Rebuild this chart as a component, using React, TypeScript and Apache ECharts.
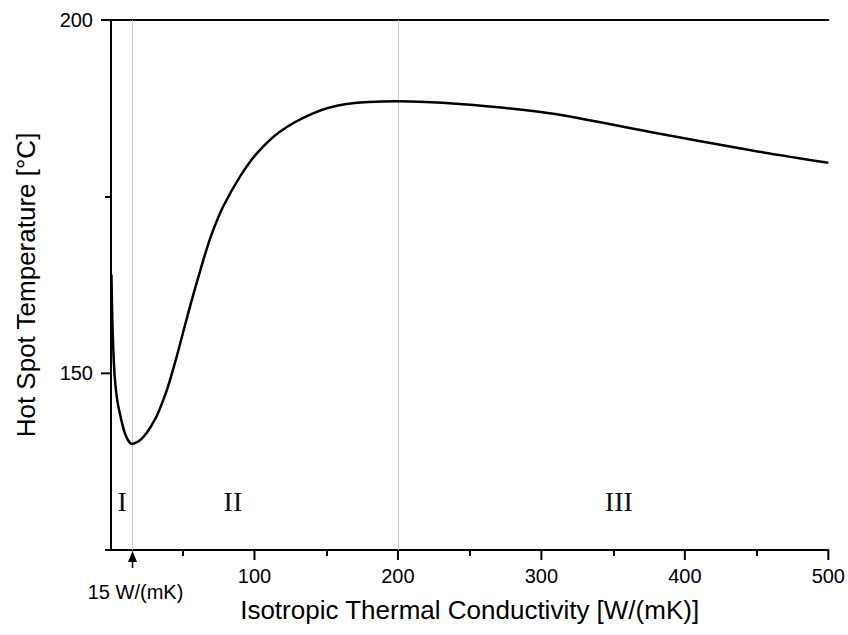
import React, { useEffect, useRef } from "react";
import * as echarts from "echarts";

// Curve: isotropic thermal conductivity [W/(mK)] vs hot spot temperature [°C]
const conductivity = [0.3, 1, 2, 3, 4.5, 6.3, 8, 9.7, 12, 14.4, 17, 20, 23, 26, 29, 32, 36, 40, 45, 50, 55, 60, 64.3, 70, 78.2, 89.8, 101.5, 117.7, 140.9, 164.1, 199, 243, 305.7, 375, 445, 500];
const hotSpot = [164, 157, 151.5, 148.5, 146, 144.2, 142.7, 141.5, 140.5, 140.0, 140.15, 140.5, 141.1, 141.9, 142.9, 144.0, 146.0, 148.3, 151.8, 155.6, 159.4, 163, 166, 169.6, 173.6, 177.8, 181.1, 184.2, 186.8, 188.1, 188.5, 188.1, 186.8, 184.2, 181.6, 179.8];

const xMajorTicks = [100, 200, 300, 400, 500];
const xMinorTicks = [50, 150, 250, 350, 450];
const yMajorTicks = [150, 200];
const yMinorTicks = [125, 175];

const guideLines = [15, 200];
const regionLabels = ["I", "II", "III"];
const regionX = [7.7, 85, 354];
const regionY = 131.8;
const arrowX = 15;
const arrowLabel = "15 W/(mK)";

const SANS = "'Liberation Sans', Arial, Helvetica, sans-serif";
const SERIF = "'Liberation Serif', 'Times New Roman', serif";

export default function App() {
  const ref = useRef<HTMLDivElement>(null);
  useEffect(() => {
    if (!ref.current) return;
    const chart = echarts.init(ref.current, undefined, { renderer: "svg" });
    const data = conductivity.map((x, i) => [x, hotSpot[i]]);
    const X_MIN = 0, X_MAX = 500, Y_MIN = 125, Y_MAX = 200;
    const gridRect = { left: 111, right: 19, top: 20, bottom: 85, containLabel: false };
    const tickStyle = { color: "#000", width: 2 };
    chart.setOption({
      animation: false,
      backgroundColor: "#ffffff",
      grid: [gridRect, gridRect],
      xAxis: [
        {
          gridIndex: 0,
          type: "value", min: X_MIN, max: X_MAX, interval: 100, position: "bottom",
          name: "Isotropic Thermal Conductivity [W/(mK)]", nameLocation: "middle", nameGap: 47,
          nameTextStyle: { fontFamily: SANS, fontSize: 26, color: "#000" },
          axisLine: { show: true, lineStyle: { color: "#000", width: 2 } },
          axisTick: { show: false },
          axisLabel: { show: true, margin: 16, customValues: xMajorTicks.slice(), fontFamily: SANS, fontSize: 20, color: "#000" },
          splitLine: { show: false },
        },
        {
          gridIndex: 0,
          type: "value", min: X_MIN, max: X_MAX, position: "top",
          axisLine: { show: true, lineStyle: { color: "#000", width: 2 } },
          axisTick: { show: false }, axisLabel: { show: false }, splitLine: { show: false },
        },
        {
          gridIndex: 1,
          type: "value", min: X_MIN, max: X_MAX, position: "bottom",
          axisLine: { show: false },
          axisTick: { show: true, inside: false, length: 6, customValues: xMinorTicks.slice(), lineStyle: tickStyle },
          axisLabel: { show: false },
          splitLine: { show: false },
        },
      ],
      yAxis: [
        {
          gridIndex: 0,
          type: "value", min: Y_MIN, max: Y_MAX, interval: 25, position: "left",
          name: "Hot Spot Temperature [°C]", nameLocation: "middle", nameGap: 72,
          nameTextStyle: { fontFamily: SANS, fontSize: 26, color: "#000" },
          axisLine: { show: true, lineStyle: { color: "#000", width: 2 } },
          axisTick: { show: false },
          axisLabel: { show: true, margin: 18, customValues: yMajorTicks.slice(), fontFamily: SANS, fontSize: 20, color: "#000" },
          splitLine: { show: false },
        },
        {
          gridIndex: 0,
          type: "value", min: Y_MIN, max: Y_MAX, position: "right",
          axisLine: { show: true, lineStyle: { color: "#000", width: 2 } },
          axisTick: { show: false }, axisLabel: { show: false }, splitLine: { show: false },
        },
        {
          gridIndex: 1,
          type: "value", min: Y_MIN, max: Y_MAX, position: "left",
          axisLine: { show: false },
          axisTick: { show: true, inside: false, length: 6, customValues: yMinorTicks.slice(), lineStyle: tickStyle },
          axisLabel: { show: false },
          splitLine: { show: false },
        },
      ],
      series: [
        {
          type: "line",
          xAxisIndex: 0, yAxisIndex: 0,
          data,
          smooth: 0.3,
          showSymbol: false,
          symbol: "none",
          lineStyle: { color: "#000", width: 2.5 },
          z: 5,
          markLine: {
            silent: true,
            symbol: ["none", "none"],
            label: { show: false },
            lineStyle: { color: "#c8c8c8", width: 1, type: "solid" },
            data: guideLines.map((v) => ({ xAxis: v })),
            z: 1,
          },
        },
      ],
    });

    const px = (x: number, y: number) => chart.convertToPixel({ xAxisIndex: 0, yAxisIndex: 0 }, [x, y]) as number[];
    const graphic: any[] = [];
    // major ticks, positioned through the axis scale
    xMajorTicks.forEach((v) => {
      const p = px(v, Y_MIN);
      graphic.push({
        type: "line",
        shape: { x1: p[0], y1: p[1], x2: p[0], y2: p[1] + 10 },
        style: { stroke: "#000", lineWidth: 2 },
        z: 10,
      });
    });
    yMajorTicks.forEach((v) => {
      const p = px(X_MIN, v);
      graphic.push({
        type: "line",
        shape: { x1: p[0] - 10, y1: p[1], x2: p[0], y2: p[1] },
        style: { stroke: "#000", lineWidth: 2 },
        z: 10,
      });
    });
    const base = px(arrowX, Y_MIN);
    graphic.push(
      {
        type: "polygon",
        shape: { points: [[base[0], base[1] + 1], [base[0] - 4.5, base[1] + 12], [base[0] + 4.5, base[1] + 12]] },
        style: { fill: "#000" },
        z: 10,
      },
      {
        type: "line",
        shape: { x1: base[0], y1: base[1] + 8, x2: base[0], y2: base[1] + 18 },
        style: { stroke: "#000", lineWidth: 1.5 },
        z: 10,
      },
      {
        type: "text",
        x: base[0] + 3,
        y: base[1] + 42,
        style: { text: arrowLabel, fontFamily: SANS, fontSize: 20, fill: "#000", align: "center", verticalAlign: "middle" },
        z: 10,
      }
    );
    regionLabels.forEach((t, i) => {
      const p = px(regionX[i], regionY);
      graphic.push({
        type: "text",
        x: p[0],
        y: p[1],
        style: { text: t, fontFamily: SERIF, fontSize: 28, fill: "#111", align: "center", verticalAlign: "middle" },
        z: 10,
      });
    });
    chart.setOption({ graphic });

    return () => chart.dispose();
  }, []);
  return <div ref={ref} style={{ position: "fixed", left: 0, top: 0, width: 848, height: 635 }} />;
}
